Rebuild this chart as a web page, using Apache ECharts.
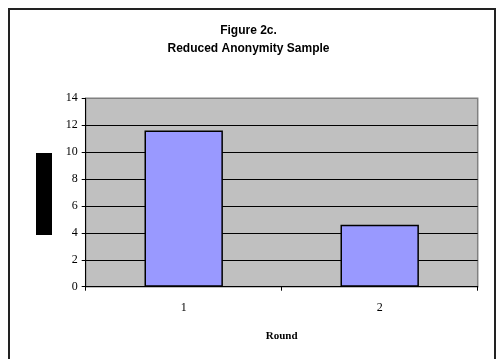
<!DOCTYPE html>
<html>
<head>
<meta charset="utf-8">
<script src="https://cdn.jsdelivr.net/npm/echarts@6/dist/echarts.min.js"></script>
<style>html,body{margin:0;padding:0;background:#fff}#c{width:497px;height:359px}</style>
</head>
<body>
<div id="c"></div>
<script>
var categories = ['1', '2'];
var values = [11.6, 4.6];
var titleLines = ['Figure 2c.', 'Reduced Anonymity Sample'];
var xName = 'Round';

var chart = echarts.init(document.getElementById('c'), null, {renderer: 'canvas'});
chart.setOption({
  animation: false,
  backgroundColor: '#fff',
  title: {
    text: titleLines.join('\n'),
    left: 'center',
    top: 17,
    textStyle: {fontFamily: 'Liberation Sans', fontWeight: 'bold', fontSize: 12, lineHeight: 18, color: '#000'}
  },
  graphic: [
    {type: 'rect', shape: {x: 9, y: 9, width: 486, height: 400}, style: {fill: 'none', stroke: '#222', lineWidth: 2}, silent: true},
    {type: 'rect', shape: {x: 36, y: 153, width: 16, height: 82}, style: {fill: '#000'}, silent: true}
  ],
  grid: {
    left: 85.7, top: 98.3, right: 19.3, bottom: 72.3,
    show: true, backgroundColor: '#c0c0c0', borderColor: '#808080', borderWidth: 1.5
  },
  xAxis: {
    type: 'category',
    data: categories,
    boundaryGap: true,
    name: xName,
    nameLocation: 'middle',
    nameGap: 44,
    nameTextStyle: {fontFamily: 'Liberation Serif', fontWeight: 'bold', fontSize: 11, color: '#000'},
    axisLine: {lineStyle: {color: '#000', width: 1}},
    axisTick: {show: true, length: 4, lineStyle: {color: '#000'}},
    axisLabel: {margin: 15, fontFamily: 'Liberation Serif', fontSize: 12, color: '#000'},
    splitLine: {show: false}
  },
  yAxis: {
    type: 'value',
    min: 0, max: 14, interval: 2,
    axisLine: {show: true, lineStyle: {color: '#000', width: 1}},
    axisTick: {show: true, length: 4, lineStyle: {color: '#000'}},
    axisLabel: {margin: 8, fontFamily: 'Liberation Serif', fontSize: 12, color: '#000'},
    splitLine: {show: true, lineStyle: {color: ['#000','#000','#000','#000','#000','#000','#000','#808080'], width: 1}}
  },
  series: [{
    type: 'bar',
    data: values,
    barWidth: '40%',
    itemStyle: {color: '#9999ff', borderColor: '#000', borderWidth: 1.5}
  }]
});
</script>
</body>
</html>
